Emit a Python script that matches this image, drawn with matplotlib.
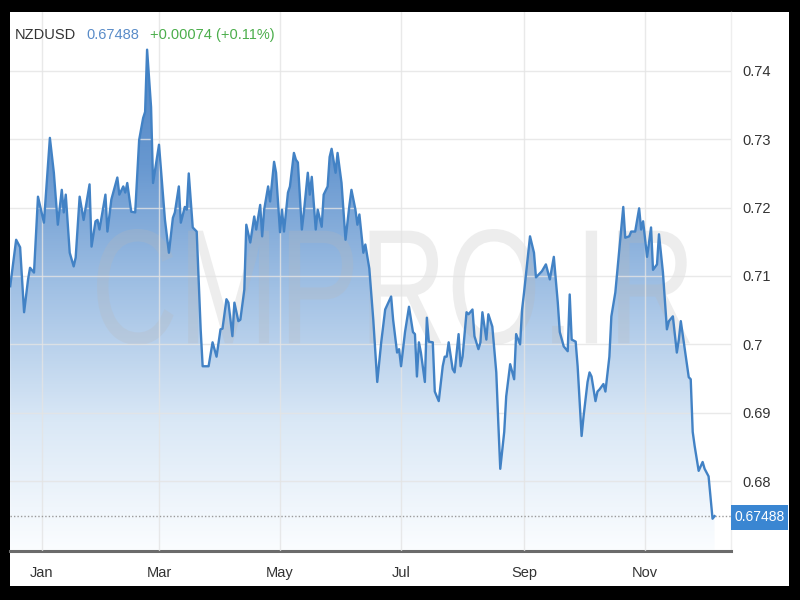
import numpy as np
import pandas as pd
import matplotlib
matplotlib.use('Agg')
import matplotlib.pyplot as plt
import matplotlib.dates as mdates
import matplotlib.transforms as mtransforms
from matplotlib.colors import LinearSegmentedColormap
from matplotlib.patches import Polygon, Rectangle, PathPatch
from matplotlib.textpath import TextPath
from matplotlib.font_manager import FontProperties

symbol = 'NZDUSD'
last_price = 0.67488
change_text = '+0.00074 (+0.11%)'
watermark = 'CMPRO.IR'

base_date = '2017-01-01'
day_offsets = [
    -16, -13, -11, -9, -7, -6, -4, -2, 1, 4,
    6, 8, 10, 11, 12, 14, 16, 17, 19, 21,
    24, 25, 27, 28, 29, 32, 33, 35, 38, 39,
    41, 42, 43, 45, 47, 49, 51, 52, 53, 55,
    56, 59, 62, 64, 66, 67, 69, 70, 72, 73,
    74, 76, 78, 80, 81, 84, 86, 88, 90, 91,
    93, 94, 96, 97, 99, 100, 102, 103, 105, 107,
    108, 110, 111, 112, 114, 115, 117, 118, 120, 121,
    122, 124, 125, 127, 128, 129, 131, 132, 134, 135,
    136, 138, 139, 141, 142, 144, 145, 146, 148, 149,
    151, 153, 155, 156, 158, 159, 160, 162, 163, 165,
    167, 169, 171, 173, 176, 177, 179, 180, 181, 183,
    185, 187, 188, 189, 190, 191, 193, 194, 195, 197,
    198, 200, 202, 203, 204, 205, 207, 208, 210, 211,
    212, 214, 215, 217, 218, 220, 221, 222, 224, 225,
    227, 229, 230, 231, 233, 234, 236, 238, 239, 241,
    242, 243, 246, 248, 249, 252, 254, 256, 258, 260,
    261, 263, 265, 266, 267, 269, 270, 272, 273, 275,
    276, 277, 279, 280, 281, 283, 284, 286, 287, 289,
    291, 293, 294, 296, 297, 299, 301, 302, 303, 305,
    307, 308, 310, 311, 313, 315, 316, 318, 320, 321,
    322, 324, 326, 327, 328, 329, 331, 333, 334, 336,
    338, 339,
]
prices = [
    0.7085, 0.7153, 0.7142, 0.7047, 0.7095, 0.7112, 0.7105, 0.7216, 0.7178, 0.7302,
    0.7251, 0.7175, 0.7226, 0.7193, 0.7219, 0.7134, 0.7114, 0.7127, 0.7216, 0.7182,
    0.7234, 0.7143, 0.7180, 0.7182, 0.7168, 0.7219, 0.7165, 0.7212, 0.7244, 0.7219,
    0.7231, 0.7222, 0.7236, 0.7194, 0.7193, 0.7299, 0.7331, 0.7340, 0.7431, 0.7347,
    0.7236, 0.7292, 0.7182, 0.7134, 0.7185, 0.7193, 0.7231, 0.7178, 0.7201, 0.7197,
    0.7250, 0.7171, 0.7165, 0.7022, 0.6968, 0.6968, 0.7003, 0.6982, 0.7022, 0.7023,
    0.7066, 0.7061, 0.7012, 0.7061, 0.7034, 0.7036, 0.7080, 0.7175, 0.7149, 0.7187,
    0.7168, 0.7204, 0.7158, 0.7197, 0.7231, 0.7209, 0.7267, 0.7251, 0.7164, 0.7197,
    0.7165, 0.7222, 0.7231, 0.7280, 0.7270, 0.7266, 0.7168, 0.7193, 0.7251, 0.7219,
    0.7245, 0.7168, 0.7197, 0.7172, 0.7219, 0.7231, 0.7274, 0.7286, 0.7251, 0.7280,
    0.7236, 0.7153, 0.7204, 0.7226, 0.7197, 0.7175, 0.7190, 0.7134, 0.7146, 0.7111,
    0.7036, 0.6945, 0.7003, 0.7051, 0.7070, 0.7036, 0.6988, 0.6993, 0.6968, 0.7018,
    0.7055, 0.7018, 0.7015, 0.6953, 0.7003, 0.6988, 0.6945, 0.7039, 0.7004, 0.7003,
    0.6931, 0.6917, 0.6968, 0.6982, 0.6982, 0.7003, 0.6964, 0.6959, 0.7015, 0.6968,
    0.6982, 0.7047, 0.7044, 0.7051, 0.7012, 0.6993, 0.7003, 0.7047, 0.7007, 0.7044,
    0.7026, 0.6959, 0.6886, 0.6818, 0.6872, 0.6924, 0.6971, 0.6949, 0.7015, 0.7000,
    0.7051, 0.7076, 0.7158, 0.7134, 0.7098, 0.7107, 0.7117, 0.7095, 0.7128, 0.7061,
    0.7018, 0.6997, 0.6990, 0.7073, 0.7007, 0.7004, 0.6968, 0.6866, 0.6895, 0.6945,
    0.6959, 0.6953, 0.6917, 0.6931, 0.6934, 0.6942, 0.6931, 0.6982, 0.7041, 0.7076,
    0.7139, 0.7201, 0.7156, 0.7158, 0.7165, 0.7165, 0.7199, 0.7168, 0.7180, 0.7128,
    0.7171, 0.7109, 0.7117, 0.7161, 0.7105, 0.7022, 0.7034, 0.7041, 0.6988, 0.7007,
    0.7034, 0.6993, 0.6952, 0.6949, 0.6872, 0.6851, 0.6815, 0.6828, 0.6818, 0.6807,
    0.6745, 0.67488,
]
price_ticks = [0.68, 0.69, 0.70, 0.71, 0.72, 0.73, 0.74]
price_labels = ['0.68', '0.69', '0.7', '0.71', '0.72', '0.73', '0.74']
month_ticks = [1, 3, 5, 7, 9, 11]

plt.rcParams['font.family'] = ['Liberation Sans', 'DejaVu Sans']

dates = pd.Timestamp(base_date) + pd.to_timedelta(day_offsets, unit='D')
x = mdates.date2num(dates.to_pydatetime())
y = np.array(prices)

y_lo, y_hi = 0.66978, 0.74861
x_lo = mdates.date2num(pd.Timestamp(base_date) - pd.Timedelta(days=16.1))
x_hi = mdates.date2num(pd.Timestamp(base_date) + pd.Timedelta(days=347.3))

fig = plt.figure(figsize=(8, 6), dpi=100, facecolor='black')
# white card inside the black frame
fig.add_artist(Rectangle((10 / 800, 14 / 600), 779 / 800, 574 / 600,
                         transform=fig.transFigure, facecolor='white',
                         edgecolor='none', zorder=0))

ax = fig.add_axes([10 / 800, 49 / 600, 721 / 800, 539 / 600])
ax.set_facecolor('none')

# gradient fill under the line
cmap = LinearSegmentedColormap.from_list(
    'nzd', ['#fbfdff', '#dae8f6', '#a3c2e5', '#6898d0', '#4c83c4'])
grad = np.linspace(0, 1, 256).reshape(-1, 1)
img = ax.imshow(grad, cmap=cmap, aspect='auto', origin='lower',
                extent=[x_lo, x_hi, y_lo, 0.745], zorder=1)
verts = np.column_stack([np.r_[x[0], x, x[-1]], np.r_[y_lo, y, y_lo]])
area = Polygon(verts, closed=True, facecolor='none', edgecolor='none')
ax.add_patch(area)
img.set_clip_path(area)

# watermark, squeezed horizontally
tp = TextPath((0, 0), watermark, size=1, prop=FontProperties(family='Liberation Sans'))
bb = tp.get_extents()
wm_tf = (mtransforms.Affine2D().translate(-bb.x0, -bb.y0)
         .scale((593 / 800) / bb.width, (116 / 600) / bb.height)
         .translate(97 / 800, 255 / 600) + fig.transFigure)
ax.add_artist(PathPatch(tp, transform=wm_tf, facecolor='#b8b8b8',
                        edgecolor='none', alpha=0.25, zorder=2, clip_on=False))

ax.plot(x, y, color='#4282c5', lw=1.7, zorder=3, solid_joinstyle='round')

ax.axhline(last_price, color='#9a9a9a', lw=1, ls=(0, (1, 1.5)), zorder=2.6)

ax.set_xlim(x_lo, x_hi)
ax.set_ylim(y_lo, y_hi)

ax.set_yticks(price_ticks)
ax.set_yticklabels(price_labels)
ax.yaxis.tick_right()
ax.xaxis.set_major_locator(mdates.MonthLocator(bymonth=month_ticks))
ax.xaxis.set_major_formatter(mdates.DateFormatter('%b'))
ax.tick_params(axis='y', length=0, pad=8, labelsize=10.5, labelcolor='#333333')
ax.tick_params(axis='x', length=0, pad=11, labelsize=10.5, labelcolor='#333333')
ax.grid(True, color='#e4e4e4', lw=1, alpha=0.8)
ax.set_axisbelow(False)
for line in ax.get_xgridlines() + ax.get_ygridlines():
    line.set_zorder(2.5)

for side in ['top', 'left']:
    ax.spines[side].set_visible(False)
ax.spines['right'].set_color('#eeeeee')
ax.spines['right'].set_linewidth(1)
ax.spines['bottom'].set_color('#6b6b6b')
ax.spines['bottom'].set_linewidth(2.2)

# last price tag on the right axis
tag_tf = mtransforms.blended_transform_factory(ax.transAxes, ax.transData)
ax.add_patch(Rectangle((1.0, last_price - 0.0020), 57 / 721, 0.00365,
                       transform=tag_tf, facecolor='#3a86d2', edgecolor='none',
                       clip_on=False, zorder=5))
ax.text(1.0 + 28.5 / 721, last_price - 0.0002, f'{last_price:.5f}', transform=tag_tf,
        ha='center', va='center', color='white', fontsize=10, zorder=6)

# header
fig.text(15 / 800, 565 / 600, symbol, color='#333333', fontsize=10.5, va='center')
fig.text(86 / 800, 565 / 600, f'{last_price:.5f}', color='#5a8cc8', fontsize=10.5, va='center')
fig.text(150 / 800, 565 / 600, change_text, color='#4cae4c', fontsize=10.5, va='center')

fig.savefig('out.png', dpi=100, facecolor='black')
